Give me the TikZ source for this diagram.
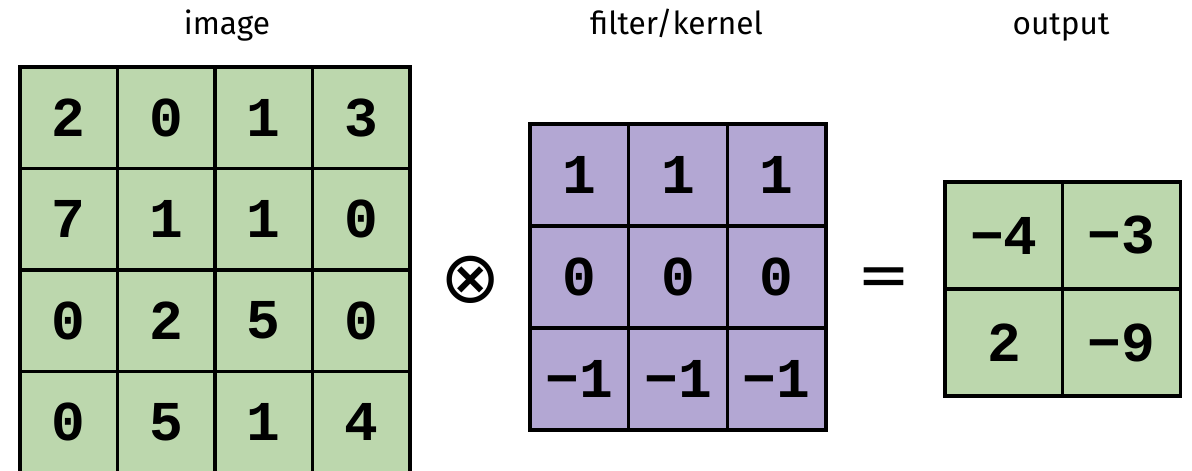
\documentclass[tikz,border=0pt]{standalone}
\usepackage{fontspec}
\setsansfont{Fira Sans}
\newfontfamily\cellfont{Liberation Mono}
\newfontfamily\symfont{DejaVu Sans}
\usetikzlibrary{positioning}
\definecolor{imagegreen}{HTML}{BCD7AD}
\definecolor{kernelpurple}{HTML}{B3A7D3}
\definecolor{textdark}{HTML}{000000}
\tikzset{
  heading/.style={font=\sffamily\fontsize{18}{18}\selectfont, text=textdark, anchor=base},
  cell/.style={
    rectangle, draw=textdark, line width=1.9pt, outer sep=0pt, inner sep=0pt,
    font=\cellfont\bfseries\fontsize{32}{32}\selectfont, text=textdark
  },
  imgcell/.style={cell, fill=imagegreen, minimum width=1.95cm, minimum height=2.03cm},
  kercell/.style={cell, fill=kernelpurple, minimum width=1.973cm, minimum height=2.04cm},
  outcell/.style={cell, fill=imagegreen, minimum width=2.356cm, minimum height=2.14cm},
  operator/.style={font=\symfont\fontsize{36}{36}\selectfont, text=textdark, inner sep=0pt}
}

\begin{document}
\begin{tikzpicture}[node distance=0pt]
\useasboundingbox (0,0) rectangle (23.84,9.4);
% headings
\node[heading] (imagelabel) at (4.54,8.72) {image};
\node[heading] (kernellabel) at (13.53,8.72) {filter/kernel};
\node[heading] (outputlabel) at (21.22,8.72) {output};
% image 4x4
\node[imgcell] (i11) at (1.375,7.045) {2};
\node[imgcell, right=of i11] (i12) {0};
\node[imgcell, right=of i12] (i13) {1};
\node[imgcell, right=of i13] (i14) {3};
\node[imgcell, below=of i11] (i21) {7};
\node[imgcell, right=of i21] (i22) {1};
\node[imgcell, right=of i22] (i23) {1};
\node[imgcell, right=of i23] (i24) {0};
\node[imgcell, below=of i21] (i31) {0};
\node[imgcell, right=of i31] (i32) {2};
\node[imgcell, right=of i32] (i33) {5};
\node[imgcell, right=of i33] (i34) {0};
\node[imgcell, below=of i31] (i41) {0};
\node[imgcell, right=of i41] (i42) {5};
\node[imgcell, right=of i42] (i43) {1};
\node[imgcell, right=of i43] (i44) {4};
% filter 3x3
\node[kercell] (k11) at (11.587,5.9) {1};
\node[kercell, right=of k11] (k12) {1};
\node[kercell, right=of k12] (k13) {1};
\node[kercell, below=of k11] (k21) {0};
\node[kercell, right=of k21] (k22) {0};
\node[kercell, right=of k22] (k23) {0};
\node[kercell, below=of k21] (k31) {−1};
\node[kercell, right=of k31] (k32) {−1};
\node[kercell, right=of k32] (k33) {−1};
% output 2x2
\node[outcell] (o11) at (20.078,4.69) {−4};
\node[outcell, right=of o11] (o12) {−3};
\node[outcell, below=of o11] (o21) {2};
\node[outcell, right=of o21] (o22) {−9};
% operators
\node[operator, font=\symfont\fontsize{41}{41}\selectfont] (conv) at (9.42,3.8) {⊗};
\node[operator] (equals) at (17.68,3.76) {=};
\end{tikzpicture}
\end{document}
